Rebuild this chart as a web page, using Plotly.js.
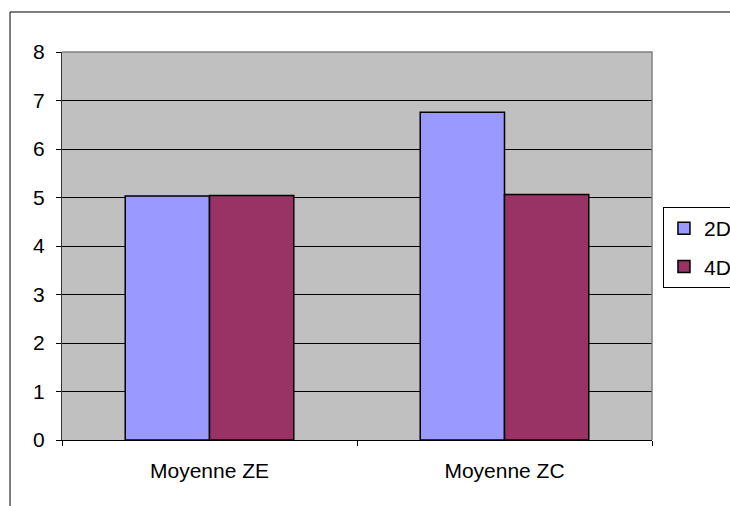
<!DOCTYPE html>
<html>
<head>
<meta charset="utf-8">
<script src="https://cdn.plot.ly/plotly-3.0.1.min.js"></script>
<style>html,body{margin:0;padding:0;background:#fff;}#chart{width:730px;height:506px;}</style>
</head>
<body>
<div id="chart"></div>
<script>
const categories = ["Moyenne ZE", "Moyenne ZC"];
const series2D = [5.03, 6.76];
const series4D = [5.04, 5.06];
const seriesNames = ["2D", "4D"];
const yTicks = [0, 1, 2, 3, 4, 5, 6, 7, 8];

const font = {family: "Liberation Sans, Arial, sans-serif", size: 21, color: "#000"};

const traces = [
  {type: "bar", name: seriesNames[0], x: categories, y: series2D, legendgroup: "a",
   marker: {color: "#9999FF", line: {color: "#000", width: 1.5}}},
  {type: "bar", name: seriesNames[1], x: categories, y: series4D, legendgroup: "b",
   marker: {color: "#993366", line: {color: "#000", width: 1.5}}}
];

const layout = {
  width: 730, height: 506,
  margin: {l: 62, r: 78, t: 52, b: 66, pad: 0, autoexpand: false},
  paper_bgcolor: "#FFFFFF",
  plot_bgcolor: "#C0C0C0",
  font: font,
  barmode: "group",
  bargap: 0.4286,
  bargroupgap: 0,
  xaxis: {
    type: "category",
    showline: true, linecolor: "#000", linewidth: 1,
    ticks: "outside", ticklen: 5, tickcolor: "#000", tickson: "boundaries",
    showgrid: false, zeroline: false,
    ticklabelstandoff: 12,
    tickfont: font
  },
  yaxis: {
    range: [0, 8], tickvals: yTicks, ticktext: yTicks.map(String),
    showline: true, linecolor: "#333", linewidth: 1,
    ticks: "outside", ticklen: 5, tickcolor: "#000",
    showgrid: true, gridcolor: "#000", gridwidth: 1,
    zeroline: false,
    ticklabelstandoff: 7,
    tickfont: font
  },
  legend: {
    x: 1.0186, y: 0.6005, xanchor: "left", yanchor: "top",
    bgcolor: "#FFFFFF", bordercolor: "#000", borderwidth: 1,
    font: font, traceorder: "grouped", tracegroupgap: 8,
    itemwidth: 30
  },
  shapes: [
    {type: "path", xref: "paper", yref: "paper", path: "M0,1 L1,1 L1,0",
     line: {color: "#808080", width: 1.5}, layer: "above"},
    {type: "rect", xref: "paper", yref: "paper", x0: -0.0881, y0: -1, x1: 2, y1: 1.1031,
     line: {color: "#000", width: 1}, fillcolor: "rgba(0,0,0,0)", layer: "above"}
  ],
  showlegend: true
};

Plotly.newPlot("chart", traces, layout, {displayModeBar: false, staticPlot: true});
</script>
</body>
</html>
